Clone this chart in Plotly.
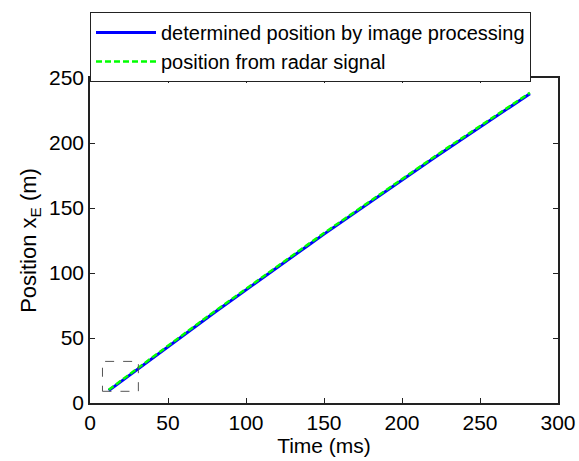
import plotly.graph_objects as go

time_ms = [12, 20, 30, 40, 50, 60, 70, 80, 90, 100, 110, 120, 130, 140, 150, 160,
           170, 180, 190, 200, 210, 220, 230, 240, 250, 260, 270, 280, 282]
pos_image = [9.5, 16.7, 25.6, 34.5, 43.4, 52.2, 61.0, 69.8, 78.5, 87.2, 95.8, 104.4,
             112.9, 121.4, 129.9, 138.3, 146.7, 155.1, 163.4, 171.6, 179.9, 188.0,
             196.2, 204.3, 212.4, 220.4, 228.4, 236.3, 237.9]
pos_radar = [10.2, 17.4, 26.4, 35.3, 44.2, 53.0, 61.8, 70.6, 79.3, 88.0, 96.6, 105.2,
             113.7, 122.2, 130.7, 139.1, 147.5, 155.9, 164.2, 172.4, 180.7, 188.8,
             197.0, 205.1, 213.2, 221.2, 229.2, 237.1, 238.6]
zoom_box_x = [8, 31]
zoom_box_y = [9, 32]

series_names = ["determined position by image processing", "position from radar signal"]

FONT = "Liberation Sans, Arial"

fig = go.Figure()
fig.add_trace(go.Scatter(x=time_ms, y=pos_image, mode="lines", name=series_names[0],
                         line=dict(color="#0000ff", width=3)))
fig.add_trace(go.Scatter(x=time_ms, y=pos_radar, mode="lines", name=series_names[1],
                         line=dict(color="#00ff00", width=2.5, dash="6px,3px")))

fig.add_shape(type="rect", xref="x", yref="y",
              x0=zoom_box_x[0], x1=zoom_box_x[1], y0=zoom_box_y[0], y1=zoom_box_y[1],
              line=dict(color="#555555", width=1, dash="dash"))

axis_common = dict(showgrid=False, zeroline=False, showline=True, linecolor="#222222",
                   linewidth=1.5, mirror="ticks", ticks="inside", ticklen=5,
                   tickcolor="#222222", automargin=False,
                   tickfont=dict(family=FONT, size=21, color="#000"))

fig.update_xaxes(range=[0, 300], tickvals=[0, 50, 100, 150, 200, 250, 300],
                 title=dict(text="Time (ms)", font=dict(family=FONT, size=21, color="#000"), standoff=0),
                 **axis_common)
fig.update_yaxes(range=[0, 250], tickvals=[0, 50, 100, 150, 200, 250],
                 title=dict(text="Position x<sub>E</sub> (m)", font=dict(family=FONT, size=22, color="#000"), standoff=6),
                 **axis_common)

fig.update_layout(
    width=579, height=461,
    margin=dict(l=90, r=21, t=73, b=58),
    paper_bgcolor="white", plot_bgcolor="white",
    showlegend=True,
    legend=dict(x=0, y=1.203, xanchor="left", yanchor="top",
                bordercolor="#222222", borderwidth=1, bgcolor="white",
                font=dict(family=FONT, size=20, color="#000"),
                itemwidth=60, tracegroupgap=0),
)

fig.write_html("out.html", config={"displayModeBar": False},
               post_script="document.body.style.margin='0';document.body.style.overflow='hidden';")
